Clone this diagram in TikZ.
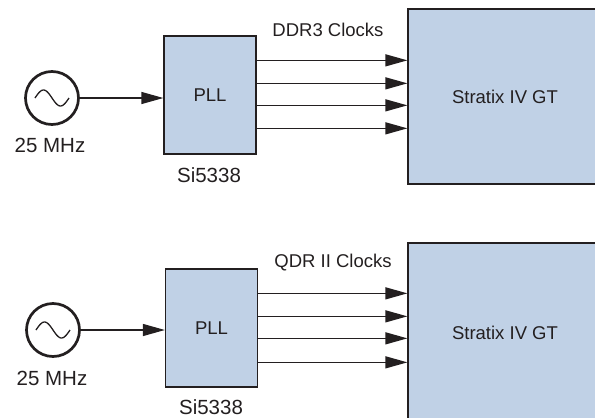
\documentclass[tikz,border=0pt]{standalone}
\usepackage{fontspec}
\setmainfont{Liberation Sans}
\usetikzlibrary{arrows.meta,calc}
\definecolor{Ink}{HTML}{231F20}
\definecolor{BoxBlue}{HTML}{C0D1E6}

\begin{document}
\begin{tikzpicture}[x=1pt,y=-1pt,
  osc/.style={circle,draw=Ink,line width=2.7pt,minimum size=53pt,inner sep=0pt},
  chip/.style={draw=Ink,fill=BoxBlue,line width=1.3pt,inner sep=0pt,text=Ink,font=\fontsize{18.5}{20}\selectfont},
  lbl/.style={text=Ink,font=\fontsize{20.5}{22}\selectfont},
  head/.style={text=Ink,font=\fontsize{18.5}{20}\selectfont},
  arrow/.style={-{Triangle[length=22pt,width=12pt]},line width=1.3pt,draw=Ink},
  wave/.style={line width=1.3pt,draw=Ink}
]
\clip (0,0) rectangle (595,418);
% DDR3 side
\node[osc] (osc1) at (52,98) {};
\draw[wave,shift={(osc1.center)}] plot[domain=-17:17,smooth,samples=30] (\x,{-8*sin(180*(\x+17)/17)});
\node[lbl] (freq1) at (50,145) {25 MHz};
\node[chip,minimum width=92pt,minimum height=118pt] (pll1) at (210,95) {PLL};
\node[lbl] (part1) at (209,175) {Si5338};
\node[chip,minimum width=194pt,minimum height=175pt] (fpga1) at (505,96.5) {Stratix IV GT};
\node[head] (bus1) at (328,30) {DDR3 Clocks};
\draw[arrow] (osc1) -- (pll1.west |- osc1);
\foreach \d in {25,48,70,93} {
  \draw[arrow] ($(pll1.north east)+(0,\d)$) -- ($(fpga1.west |- pll1.north)+(0,\d)$);
}
% QDR II side
\node[osc] (osc2) at (53,330) {};
\draw[wave,shift={(osc2.center)}] plot[domain=-17:17,smooth,samples=30] (\x,{-8*sin(180*(\x+17)/17)});
\node[lbl] (freq2) at (52,378) {25 MHz};
\node[chip,minimum width=92pt,minimum height=118pt] (pll2) at (211.5,328) {PLL};
\node[lbl] (part2) at (211,407) {Si5338};
\node[chip,minimum width=194pt,minimum height=180pt] (fpga2) at (505,333) {Stratix IV GT};
\node[head] (bus2) at (333,263) {QDR II Clocks};
\draw[arrow] (osc2) -- (pll2.west |- osc2);
\foreach \d in {25,48,70,94} {
  \draw[arrow] ($(pll2.north east)+(0,\d)$) -- ($(fpga2.west |- pll2.north)+(0,\d)$);
}
\end{tikzpicture}
\end{document}
